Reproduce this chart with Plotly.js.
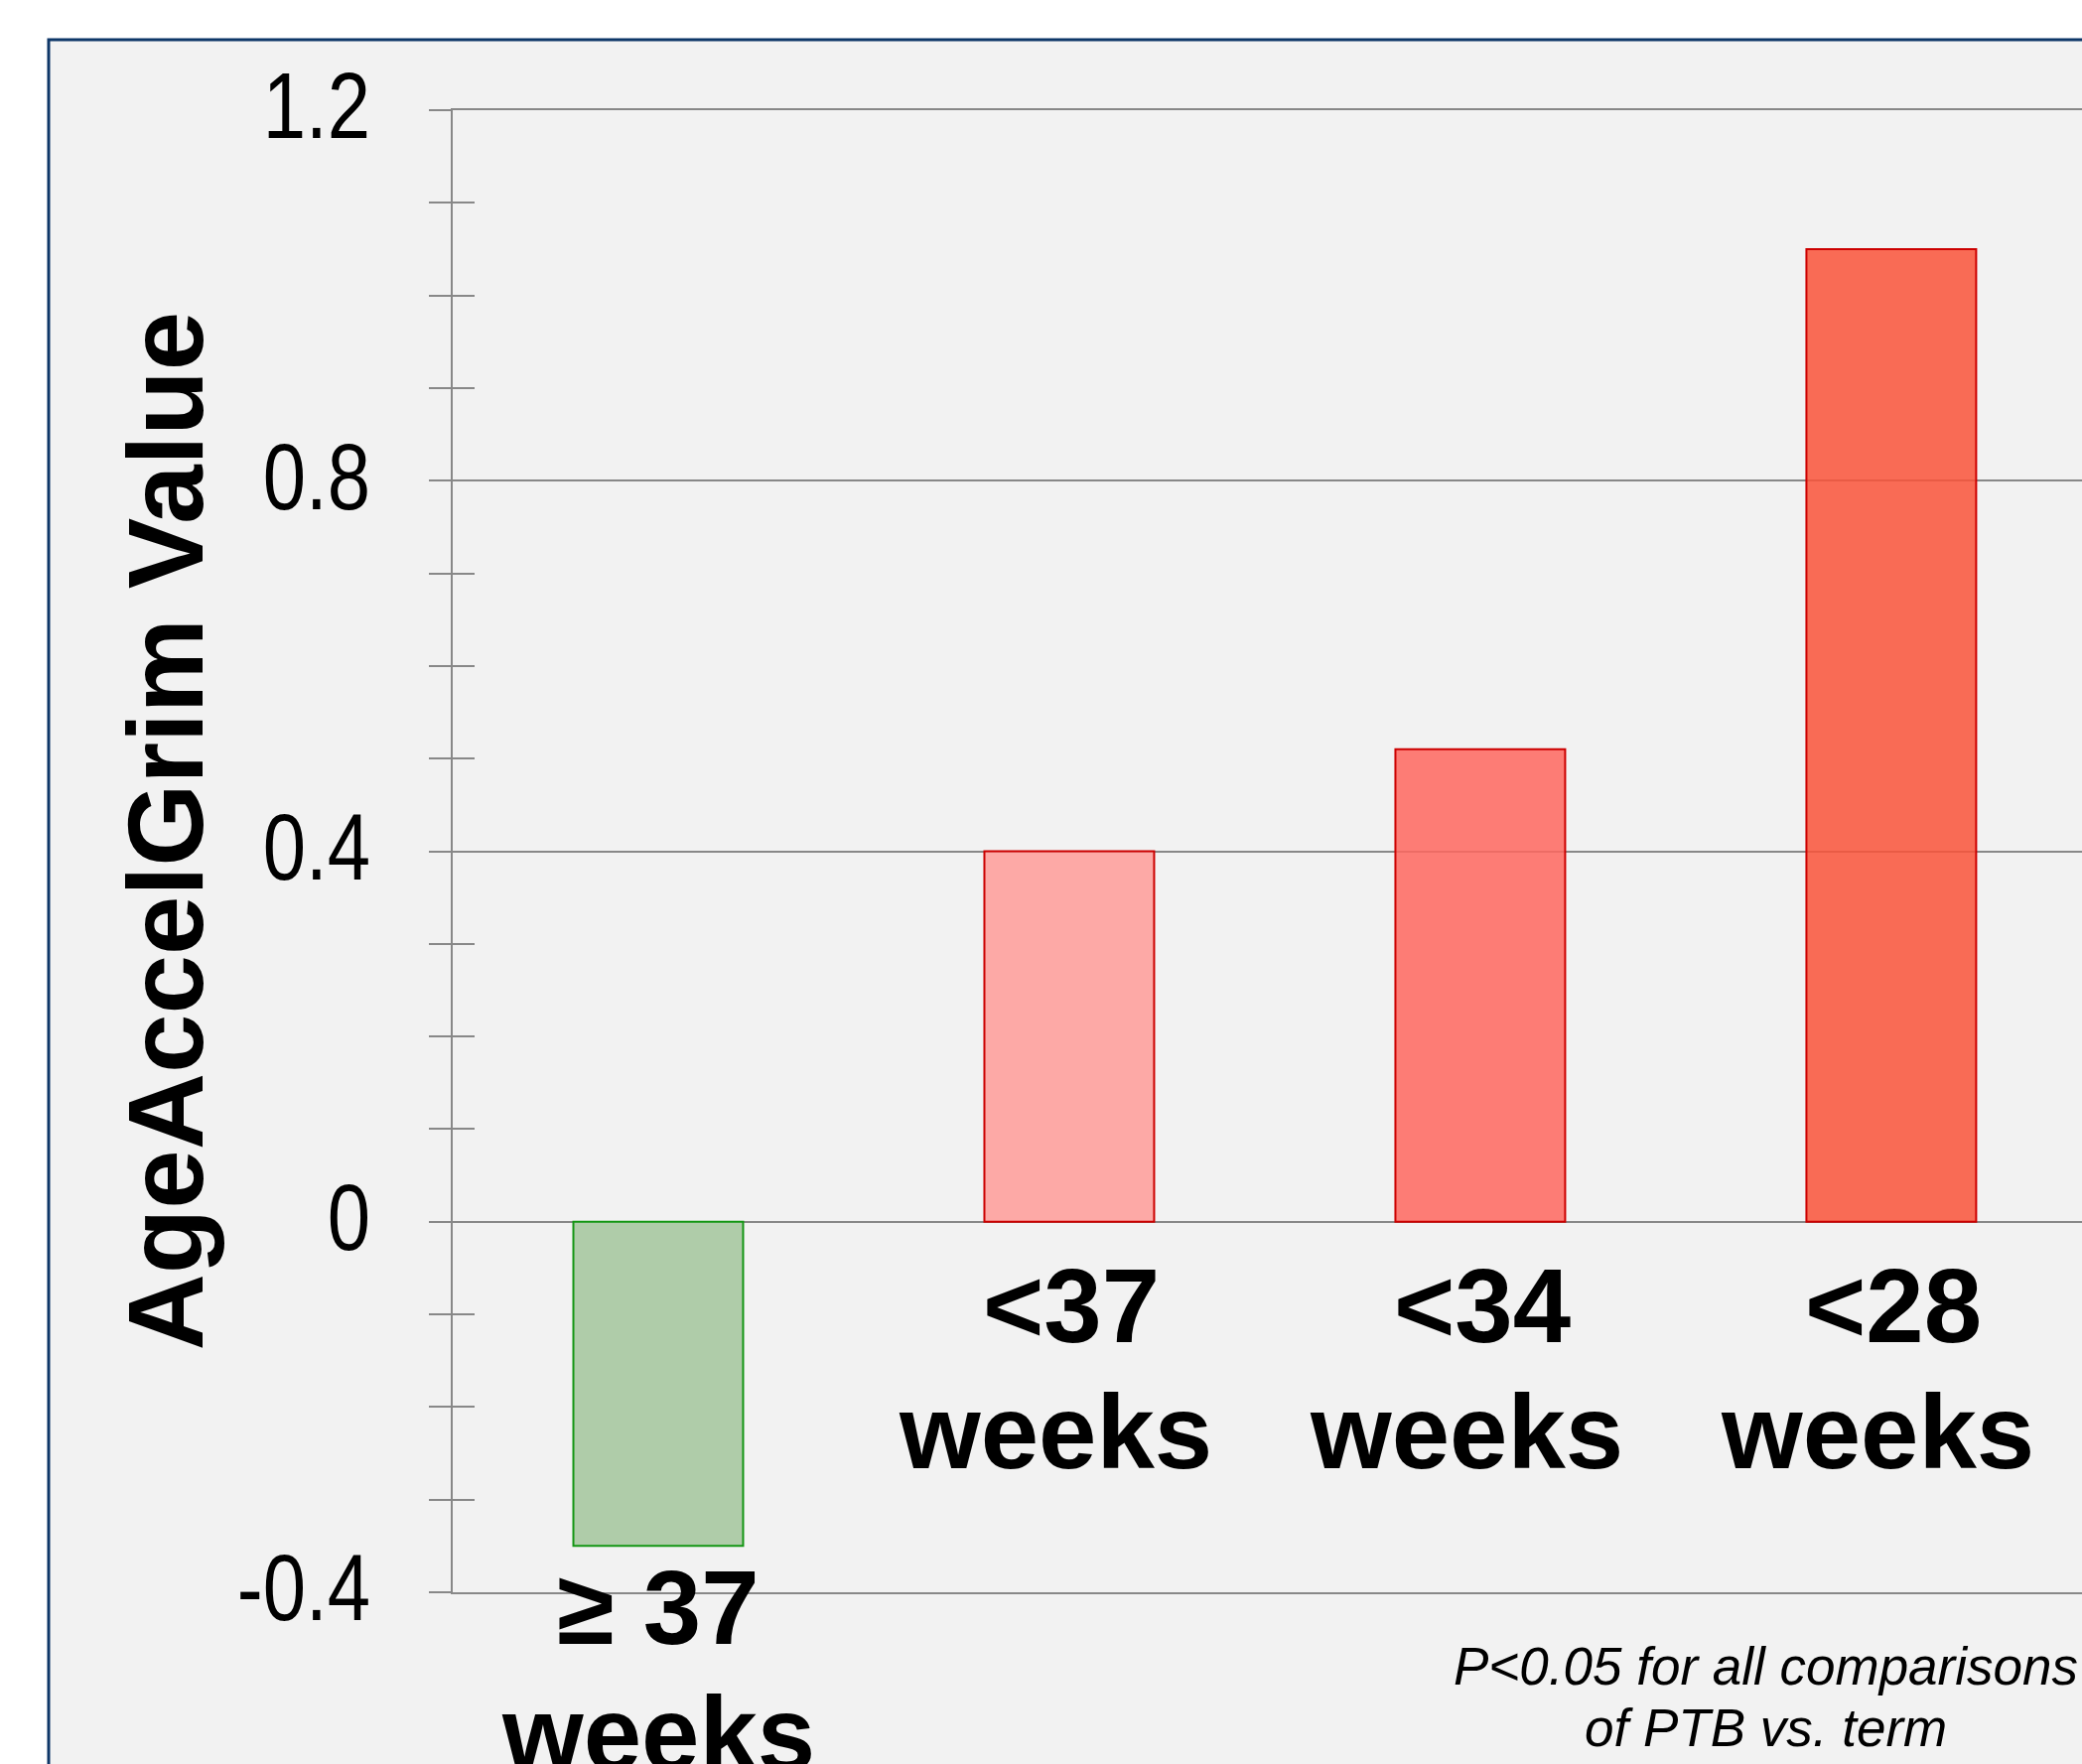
<!DOCTYPE html>
<html>
<head>
<meta charset="utf-8">
<script src="https://cdn.plot.ly/plotly-3.0.1.min.js"></script>
<style>
  html, body { margin: 0; padding: 0; background: #ffffff; }
  #chart { width: 2097px; height: 1777px; }
</style>
</head>
<body>
<div id="chart"></div>
<script>
// ---- data ----
const categories = ["≥ 37 weeks", "<37 weeks", "<34 weeks", "<28 weeks"];
const labelLine1 = ["≥ 37", "<37", "<34", "<28"];
const labelLine2 = ["weeks", "weeks", "weeks", "weeks"];
const values = [-0.35, 0.40, 0.51, 1.05];
const tickValues = [-0.4, 0, 0.4, 0.8, 1.2];
const tickLabels = ["-0.4", "0", "0.4", "0.8", "1.2"];
const yTitle = "AgeAccelGrim Value";
const noteLines = ["P<0.05 for all comparisons", "of PTB vs. term"];

// ---- styles ----
const fillColors = ["rgb(175,204,169)", "rgba(255,156,153,0.85)", "rgba(255,103,95,0.85)", "rgba(250,84,57,0.85)"];
const lineColors = ["rgb(20,150,20)", "rgb(204,0,0)", "rgb(204,0,0)", "rgb(204,0,0)"];
const gridGray = "rgb(136,136,136)";
const esc = s => s.replace(/&/g, "&amp;").replace(/</g, "&lt;").replace(/>/g, "&gt;");

const W = 2097, H = 1777;
const M = { l: 456, r: 0, t: 111, b: 173 };
const plotW = W - M.l - M.r, plotH = H - M.t - M.b;
const px2paperX = px => (px - M.l) / plotW;
const px2paperY = py => (H - M.b - py) / plotH;

const barTrace = {
  type: "bar",
  x: categories,
  y: values,
  width: 0.413,
  marker: { color: fillColors, line: { color: lineColors, width: 2 } },
  hoverinfo: "none",
  showlegend: false
};
// empty trace so the overlaid tick axis (inner half of the crossing ticks) is drawn
const tickAxisTrace = { type: "scatter", x: [], y: [], xaxis: "x", yaxis: "y2", hoverinfo: "skip", showlegend: false };

const catFont = { family: "Liberation Sans, Arial, sans-serif", size: 105, weight: "bold", color: "#000" };
const annotations = [];
const lineGap = 127;
categories.forEach((c, i) => {
  const base = Math.min(0, values[i]);
  const shift0 = values[i] >= 0 ? -24 : -2;
  const xs1 = values[i] >= 0 ? 2 : 0;
  const xs2 = values[i] >= 0 ? -14 : 0;
  annotations.push({
    x: c, y: base, xref: "x", yref: "y", xanchor: "center", yanchor: "top",
    text: esc(labelLine1[i]), showarrow: false, yshift: shift0, xshift: xs1, font: catFont
  });
  annotations.push({
    x: c, y: base, xref: "x", yref: "y", xanchor: "center", yanchor: "top",
    text: esc(labelLine2[i]), showarrow: false, yshift: shift0 - lineGap, xshift: xs2, font: catFont
  });
});

annotations.push({
  x: px2paperX(166), y: px2paperY(837.5), xref: "paper", yref: "paper",
  xanchor: "center", yanchor: "middle", textangle: -90, showarrow: false,
  text: esc(yTitle),
  font: { family: "Liberation Sans, Arial, sans-serif", size: 107, weight: "bold", color: "#000" }
});

noteLines.forEach((t, k) => {
  annotations.push({
    x: px2paperX(1778), y: px2paperY(1647 + k * 62), xref: "paper", yref: "paper",
    xanchor: "center", yanchor: "top", showarrow: false,
    text: "<i>" + esc(t) + "</i>",
    font: { family: "Liberation Sans, Arial, sans-serif", size: 53, color: "#000" }
  });
});

const yRange = [-0.4, 1.2];
const tickStyle = { tickwidth: 2, tickcolor: gridGray, ticklen: 22 };
const layout = {
  width: W, height: H,
  margin: M,
  paper_bgcolor: "#ffffff",
  plot_bgcolor: "rgba(0,0,0,0)",
  showlegend: false,
  xaxis: {
    type: "category", range: [-0.5, 3.464], fixedrange: true,
    showticklabels: false, ticks: "", showgrid: false, zeroline: false,
    showline: true, mirror: true, linecolor: gridGray, linewidth: 2
  },
  yaxis: Object.assign({
    range: yRange, fixedrange: true,
    tickmode: "array", tickvals: tickValues, ticktext: tickLabels,
    ticks: "outside",
    ticklabelstandoff: 40,
    tickfont: { family: "Liberation Sans Narrow, Arial Narrow, Liberation Sans, sans-serif", size: 95, color: "#000" },
    showgrid: true, gridcolor: gridGray, gridwidth: 2,
    zeroline: true, zerolinecolor: gridGray, zerolinewidth: 2,
    showline: true, linecolor: gridGray, linewidth: 2,
    minor: Object.assign({ tickmode: "linear", tick0: 0, dtick: 0.1, ticks: "outside", showgrid: false }, tickStyle)
  }, tickStyle),
  yaxis2: Object.assign({
    range: yRange, fixedrange: true, overlaying: "y", anchor: "x", side: "left",
    tickmode: "array", tickvals: tickValues, ticktext: tickLabels, showticklabels: false,
    ticks: "inside",
    showgrid: false, zeroline: false, showline: false,
    minor: Object.assign({ tickmode: "linear", tick0: 0, dtick: 0.1, ticks: "inside", showgrid: false }, tickStyle)
  }, tickStyle),
  shapes: [{
    type: "rect", xref: "paper", yref: "paper", layer: "below",
    x0: px2paperX(49), x1: 1.1, y0: -0.3, y1: px2paperY(40),
    fillcolor: "#f2f2f2", line: { color: "#0e3768", width: 3 }
  }],
  annotations: annotations
};

Plotly.newPlot("chart", [barTrace, tickAxisTrace], layout, { staticPlot: true, displayModeBar: false })
  .then(gd => {
    // condense the tick labels horizontally (narrow face), anchored at their right edge
    gd.querySelectorAll(".yaxislayer-above .ytick text").forEach(t => {
      const x = parseFloat(t.getAttribute("x")) || 0;
      const y = parseFloat(t.getAttribute("y")) || 0;
      const tr = t.getAttribute("transform") || "";
      t.setAttribute("transform", tr + " translate(" + x + "," + (y - 5) + ") scale(0.82,1) translate(" + (-x) + "," + (-y) + ")");
    });
  });
</script>
</body>
</html>
